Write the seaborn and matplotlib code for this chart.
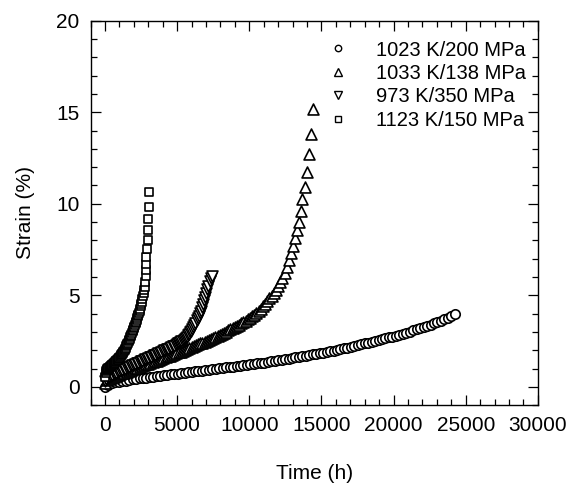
import matplotlib
matplotlib.use("Agg")
import matplotlib.pyplot as plt
import seaborn as sns
from matplotlib.lines import Line2D
from matplotlib.ticker import MultipleLocator

# 1023 K / 200 MPa (circles)
t_1023 = [0, 240, 480, 720, 960, 1200, 1440, 1680, 1920, 2160, 2400, 2640, 2880, 3120, 3360,
          3600, 3840, 4080, 4320, 4560, 4800, 5040, 5280, 5520, 5760, 6000, 6240, 6480, 6720,
          6960, 7200, 7440, 7680, 7920, 8160, 8400, 8640, 8880, 9120, 9360, 9600, 9840, 10080,
          10320, 10560, 10800, 11040, 11280, 11520, 11760, 12000, 12240, 12480, 12720, 12960,
          13200, 13440, 13680, 13920, 14160, 14400, 14640, 14880, 15120, 15360, 15600, 15840,
          16080, 16320, 16560, 16800, 17040, 17280, 17520, 17760, 18000, 18240, 18480, 18720,
          18960, 19200, 19440, 19680, 19920, 20160, 20400, 20640, 20880, 21120, 21360, 21600,
          21840, 22080, 22320, 22560, 22800, 23040, 23280, 23520, 23760, 24000, 24240]
s_1023 = [0.00, 0.12, 0.19, 0.24, 0.28, 0.31, 0.34, 0.38, 0.41, 0.44, 0.46, 0.48, 0.51, 0.53, 0.56,
          0.58, 0.60, 0.63, 0.65, 0.68, 0.70, 0.72, 0.75, 0.77, 0.80, 0.82, 0.84, 0.87, 0.89,
          0.92, 0.94, 0.96, 0.99, 1.01, 1.04, 1.06, 1.08, 1.11, 1.13, 1.16, 1.18, 1.20, 1.23,
          1.26, 1.28, 1.31, 1.33, 1.36, 1.39, 1.42, 1.45, 1.48, 1.51, 1.54, 1.57,
          1.61, 1.64, 1.67, 1.70, 1.73, 1.77, 1.80, 1.83, 1.87, 1.91, 1.94, 1.98,
          2.02, 2.06, 2.10, 2.14, 2.19, 2.23, 2.28, 2.32, 2.37, 2.42, 2.47, 2.51,
          2.56, 2.61, 2.66, 2.70, 2.75, 2.80, 2.86, 2.91, 2.96, 3.02, 3.08, 3.14,
          3.20, 3.26, 3.33, 3.40, 3.47, 3.54, 3.62, 3.70, 3.78, 3.87, 3.97]

# 1033 K / 138 MPa (triangles)
t_1033 = [0, 150, 300, 450, 600, 750, 900, 1050, 1200, 1350, 1500, 1650, 1800, 1950, 2100,
          2250, 2400, 2550, 2700, 2850, 3000, 3150, 3300, 3450, 3600, 3750, 3900, 4050, 4200,
          4350, 4500, 4650, 4800, 4950, 5100, 5250, 5400, 5550, 5700, 5850, 6000, 6150, 6300,
          6450, 6600, 6750, 6900, 7050, 7200, 7350, 7500, 7650, 7800, 7950, 8100, 8250, 8400,
          8550, 8700, 8850, 9000, 9150, 9300, 9450, 9600, 9750, 9900, 10050, 10200, 10350,
          10500, 10650, 10800, 10950, 11100, 11250, 11400, 11550, 11700, 11850, 12000, 12150,
          12300, 12450, 12600, 12750, 12910, 13025, 13140, 13278, 13417, 13555, 13672, 13854,
          13992, 14130, 14295, 14406]
s_1033 = [0.20, 0.35, 0.43, 0.48, 0.54, 0.59, 0.64, 0.69, 0.74, 0.78, 0.83, 0.87, 0.92, 0.96, 1.01,
          1.05, 1.09, 1.14, 1.18, 1.23, 1.27, 1.31, 1.35, 1.40, 1.44, 1.48, 1.52, 1.56, 1.61,
          1.66, 1.70, 1.75, 1.79, 1.84, 1.88, 1.93, 1.98, 2.03, 2.07, 2.12, 2.17, 2.22, 2.27,
          2.32, 2.37, 2.42, 2.47, 2.52, 2.57, 2.63, 2.68, 2.73, 2.79, 2.84, 2.90, 2.96, 3.02,
          3.08, 3.14, 3.20, 3.26, 3.33, 3.40, 3.47, 3.54, 3.62, 3.69, 3.77, 3.85, 3.94,
          4.02, 4.14, 4.27, 4.41, 4.55, 4.69, 4.83, 4.99, 5.15, 5.31, 5.50, 5.72,
          5.94, 6.21, 6.54, 6.93, 7.29, 7.70, 8.14, 8.56, 9.02, 9.60, 10.24, 10.93,
          11.75, 12.70, 13.79, 15.16]

# 973 K / 350 MPa (inverted triangles)
t_973 = [0, 100, 200, 300, 400, 500, 600, 700, 800, 900, 1000, 1100, 1200, 1300, 1400, 1500,
         1600, 1700, 1800, 1900, 2000, 2100, 2200, 2300, 2400, 2500, 2600, 2700, 2800, 2900,
         3000, 3100, 3200, 3300, 3400, 3500, 3600, 3700, 3800, 3900, 4000, 4100, 4200, 4300,
         4400, 4500, 4600, 4700, 4800, 4900, 5000, 5075, 5150, 5225, 5300, 5375, 5450, 5525,
         5600, 5675, 5750, 5825, 5900, 5975, 6050, 6125, 6200, 6275, 6350, 6425, 6500, 6575,
         6650, 6725, 6800, 6875, 6950, 7025, 7100, 7175, 7250, 7325, 7390]
s_973 = [0.30, 0.44, 0.50, 0.55, 0.60, 0.64, 0.68, 0.72, 0.77, 0.81, 0.85, 0.89, 0.92, 0.96, 0.99, 1.03,
         1.07, 1.10, 1.14, 1.17, 1.21, 1.25, 1.29, 1.32, 1.36, 1.40, 1.44, 1.47, 1.51, 1.54,
         1.58, 1.62, 1.65, 1.69, 1.72, 1.76, 1.80, 1.84, 1.87, 1.91, 1.95, 1.99, 2.02, 2.06,
         2.09, 2.13, 2.17, 2.21, 2.25, 2.29, 2.33, 2.37, 2.41, 2.45, 2.49, 2.53, 2.58, 2.63,
         2.69, 2.75, 2.83, 2.90, 2.98, 3.07, 3.17, 3.28, 3.39, 3.51, 3.63, 3.76, 3.88, 4.02,
         4.17, 4.34, 4.53, 4.72, 4.92, 5.10, 5.32, 5.52, 5.76, 5.95, 6.05]

# 1123 K / 150 MPa (squares)
t_1123 = [0, 40, 80, 120, 160, 200, 240, 280, 320, 360, 400, 440, 480, 520, 560, 600, 640, 680,
          720, 760, 800, 840, 880, 920, 960, 1000, 1040, 1080, 1120, 1160, 1200, 1240, 1280,
          1320, 1360, 1400, 1440, 1480, 1520, 1560, 1600, 1640, 1680, 1720, 1760, 1800, 1840,
          1880, 1920, 1960, 2000, 2040, 2080, 2120, 2160, 2200, 2240, 2280, 2320, 2360, 2400,
          2440, 2480, 2520, 2560, 2600, 2640, 2680, 2720, 2760, 2790, 2812, 2835, 2857, 2880,
          2927, 2950, 2974, 2997, 3040, 3070]
s_1123 = [0.55, 0.76, 0.86, 0.92, 0.96, 1.00, 1.02, 1.05, 1.07, 1.10, 1.12, 1.15, 1.18, 1.20, 1.23,
          1.26, 1.29, 1.32, 1.36, 1.39, 1.42, 1.46, 1.49, 1.53, 1.56, 1.60, 1.64, 1.69, 1.73,
          1.78, 1.82, 1.87, 1.92, 1.97, 2.03, 2.08, 2.14, 2.21, 2.27, 2.34, 2.40, 2.48, 2.55,
          2.63, 2.70, 2.78, 2.86, 2.95, 3.03, 3.12, 3.20, 3.29, 3.38, 3.47, 3.56, 3.65, 3.75,
          3.85, 3.94, 4.05, 4.16, 4.27, 4.39, 4.52, 4.66, 4.80, 4.95, 5.11, 5.28, 5.48, 5.74,
          6.05, 6.38, 6.70, 7.07, 7.51, 8.02, 8.56, 9.16, 9.84, 10.66]

labels = ["1023 K/200 MPa", "1033 K/138 MPa", "973 K/350 MPa", "1123 K/150 MPa"]
markers = ["o", "^", "v", "s"]

sns.set_style("ticks")
plt.rcParams["font.family"] = ["Liberation Sans", "DejaVu Sans"]
plt.rcParams["text.color"] = "black"
plt.rcParams["axes.labelcolor"] = "black"

fig, ax = plt.subplots(figsize=(5.71, 4.87), dpi=100)
fig.subplots_adjust(left=0.1585, right=0.942, bottom=0.168, top=0.9575)

sizes = [46, 62, 62, 38]
data = [(t_1023, s_1023), (t_1033, s_1033), (t_973, s_973), (t_1123, s_1123)]
for (t, s), m, sz in zip(data, markers, sizes):
    sns.scatterplot(x=t, y=s, marker=m, s=sz, color="white", edgecolor="black",
                    linewidth=1.2, ax=ax, zorder=3, legend=False)

ax.set_xlim(-1000, 30000)
ax.set_ylim(-1, 20)
ax.set_xticks(range(0, 30001, 5000))
ax.set_yticks([0, 5, 10, 15, 20])
ax.xaxis.set_minor_locator(MultipleLocator(1000))
ax.yaxis.set_minor_locator(MultipleLocator(1))
ax.tick_params(which="both", direction="in", top=True, right=True, width=0.9,
               colors="black", labelsize=15, pad=8)
ax.tick_params(which="major", length=7.5)
ax.tick_params(which="minor", length=4)
for sp in ax.spines.values():
    sp.set_linewidth(1.0)
    sp.set_color("black")

ax.set_xlabel("Time (h)", fontsize=15, va="center")
ax.set_ylabel("Strain (%)", fontsize=15, va="center")
ax.xaxis.set_label_coords(0.5, -0.177)
ax.yaxis.set_label_coords(-0.146, 0.5)

handles = [Line2D([], [], marker=m, linestyle="", markersize=ms, markerfacecolor="white",
                  markeredgecolor="black", markeredgewidth=1.0)
           for m, ms in zip(markers, [4.6, 5.2, 5.2, 4.2])]
ax.legend(handles, labels, loc="upper left", bbox_to_anchor=(328 / 571, 1 - 40.5 / 487),
          bbox_transform=fig.transFigure, frameon=False, fontsize=14.5, borderpad=0,
          borderaxespad=0, handlelength=1.0, handletextpad=1.36, labelspacing=0.22)

fig.savefig("out.png", dpi=100)
